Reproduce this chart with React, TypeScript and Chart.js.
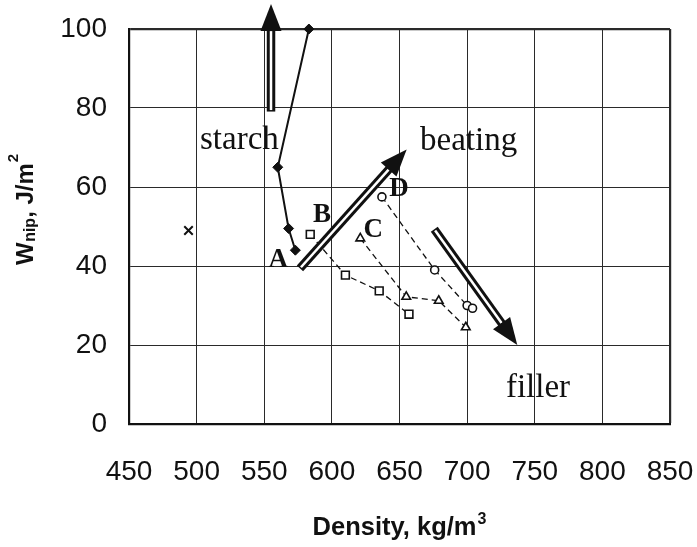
import { useEffect, useRef } from 'react';
import { Chart, registerables } from 'chart.js';

Chart.register(...registerables);

// ---- data ----
const xMin = 450;
const xMax = 850;
const xStep = 50;
const yMin = 0;
const yMax = 100;
const yStep = 20;

// starch series (solid line, filled diamonds)
const diamondX = [573, 568, 560, 583];
const diamondY = [44, 49.5, 65, 100];

// single reference point (x)
const crossX = [494];
const crossY = [49];

// B series (open squares, dashed)
const squareX = [584, 610, 635, 657];
const squareY = [48, 37.7, 33.7, 27.8];

// C series (open triangles, dashed)
const triangleX = [621, 655, 679, 699];
const triangleY = [47, 32.2, 31.2, 24.5];

// D series (open circles, dashed)
const circleX = [637, 676, 700, 704];
const circleY = [57.5, 39, 30, 29.3];

// arrows (data units)
const arrowTailX = [555, 576.4, 675.7];
const arrowTailY = [79.1, 39.4, 49.3];
const arrowTipX = [555, 655.3, 737.1];
const arrowTipY = [106.3, 69.5, 20];

// annotation words
const noteTexts = ['starch', 'beating', 'filler'];
const noteX = [502.5, 665.2, 728.7];
const noteY = [69.5, 69.4, 6.9];

// point letters
const letterTexts = ['A', 'B', 'C', 'D'];
const letterX = [560.4, 592.7, 630.6, 649.6];
const letterY = [39.7, 51.2, 47.4, 57.7];

const toPoints = (xs: number[], ys: number[]) => xs.map((x, i) => ({ x, y: ys[i] }));

function drawArrow(ctx: CanvasRenderingContext2D, x0: number, y0: number, x1: number, y1: number) {
  const dx = x1 - x0;
  const dy = y1 - y0;
  const len = Math.hypot(dx, dy);
  const ux = dx / len;
  const uy = dy / len;
  const headL = 27;
  const headW = 21;
  const bx = x1 - ux * headL;
  const by = y1 - uy * headL;
  ctx.lineCap = 'butt';
  ctx.strokeStyle = '#111';
  ctx.lineWidth = 8.5;
  ctx.beginPath();
  ctx.moveTo(x0, y0);
  ctx.lineTo(bx + ux * 2, by + uy * 2);
  ctx.stroke();
  ctx.strokeStyle = '#fff';
  ctx.lineWidth = 2.5;
  ctx.beginPath();
  ctx.moveTo(x0 + ux * 1.5, y0 + uy * 1.5);
  ctx.lineTo(bx, by);
  ctx.stroke();
  const px = -uy;
  const py = ux;
  ctx.fillStyle = '#111';
  ctx.beginPath();
  ctx.moveTo(x1, y1);
  ctx.lineTo(bx + (px * headW) / 2, by + (py * headW) / 2);
  ctx.lineTo(bx - (px * headW) / 2, by - (py * headW) / 2);
  ctx.closePath();
  ctx.fill();
}

const annotationPlugin = {
  id: 'annotations',
  afterDatasetsDraw(chart: any) {
    const { ctx, scales } = chart;
    const xs = scales.x;
    const ys = scales.y;
    ctx.save();
    for (let i = 0; i < arrowTailX.length; i++) {
      drawArrow(
        ctx,
        xs.getPixelForValue(arrowTailX[i]),
        ys.getPixelForValue(arrowTailY[i]),
        xs.getPixelForValue(arrowTipX[i]),
        ys.getPixelForValue(arrowTipY[i])
      );
    }
    ctx.fillStyle = '#111';
    ctx.textBaseline = 'alphabetic';
    ctx.textAlign = 'left';
    ctx.font = '33px "Liberation Serif", "Times New Roman", serif';
    for (let i = 0; i < noteTexts.length; i++) {
      ctx.fillText(noteTexts[i], xs.getPixelForValue(noteX[i]), ys.getPixelForValue(noteY[i]));
    }
    ctx.textAlign = 'center';
    ctx.font = 'bold 27px "Liberation Serif", "Times New Roman", serif';
    for (let i = 0; i < letterTexts.length; i++) {
      ctx.fillText(letterTexts[i], xs.getPixelForValue(letterX[i]), ys.getPixelForValue(letterY[i]));
    }
    ctx.restore();
  },
  afterDraw(chart: any) {
    const { ctx, chartArea } = chart;
    ctx.save();
    ctx.fillStyle = '#111';
    ctx.textBaseline = 'alphabetic';
    ctx.textAlign = 'left';
    // x title
    const mainFont = 'bold 25.5px "Liberation Sans", Arial, sans-serif';
    const supFont = 'bold 16px "Liberation Sans", Arial, sans-serif';
    ctx.font = mainFont;
    const t1 = 'Density, kg/m';
    const w1 = ctx.measureText(t1).width;
    ctx.font = supFont;
    const w2 = ctx.measureText('3').width;
    const cx = (chartArea.left + chartArea.right) / 2;
    const sx = cx - (w1 + w2 + 1) / 2;
    const by = chartArea.bottom + 111;
    ctx.font = mainFont;
    ctx.fillText(t1, sx, by);
    ctx.font = supFont;
    ctx.fillText('3', sx + w1 + 1, by - 11.5);

    // y title (rotated)
    ctx.translate(33, chartArea.bottom - 159);
    ctx.rotate(-Math.PI / 2);
    let pos = 0;
    const big = 'bold 24px "Liberation Sans", Arial, sans-serif';
    const sub = 'bold 16px "Liberation Sans", Arial, sans-serif';
    const sup2 = 'bold 15px "Liberation Sans", Arial, sans-serif';
    ctx.font = big;
    ctx.fillText('W', pos, 0);
    pos += ctx.measureText('W').width + 0.5;
    ctx.font = sub;
    ctx.fillText('nip', pos, 2);
    pos += ctx.measureText('nip').width;
    ctx.font = big;
    ctx.fillText(', J/m', pos, 0);
    pos += ctx.measureText(', J/m').width + 1;
    ctx.font = sup2;
    ctx.fillText('2', pos, -15);
    ctx.restore();
  },
};

export default function App() {
  const canvasRef = useRef<HTMLCanvasElement | null>(null);

  useEffect(() => {
    const canvas = canvasRef.current;
    if (!canvas) return;
    const dashed = { borderColor: '#111', borderWidth: 1.3, borderDash: [6, 4], showLine: true, clip: false as any };
    const tickFont = { family: '"Liberation Sans", Arial, sans-serif', size: 28 };
    const chart = new Chart(canvas, {
      type: 'scatter',
      data: {
        datasets: [
          {
            label: 'starch',
            data: toPoints(diamondX, diamondY),
            showLine: true,
            borderColor: '#111',
            borderWidth: 2,
            backgroundColor: '#111',
            pointStyle: 'rectRot',
            pointRadius: 5,
            pointBorderWidth: 1,
            pointBackgroundColor: '#111',
            pointBorderColor: '#111',
            clip: false as any,
          },
          {
            label: 'ref',
            data: toPoints(crossX, crossY),
            pointStyle: 'crossRot',
            pointRadius: 6,
            pointBorderWidth: 2,
            pointBorderColor: '#111',
            borderColor: '#111',
          },
          {
            label: 'B',
            data: toPoints(squareX, squareY),
            ...dashed,
            pointStyle: 'rect',
            pointRadius: 5.5,
            pointBorderWidth: 1.6,
            pointBorderColor: '#111',
            pointBackgroundColor: '#fff',
          },
          {
            label: 'C',
            data: toPoints(triangleX, triangleY),
            ...dashed,
            pointStyle: 'triangle',
            pointRadius: 5,
            pointBorderWidth: 1.6,
            pointBorderColor: '#111',
            pointBackgroundColor: '#fff',
          },
          {
            label: 'D',
            data: toPoints(circleX, circleY),
            ...dashed,
            pointStyle: 'circle',
            pointRadius: 4,
            pointBorderWidth: 1.6,
            pointBorderColor: '#111',
            pointBackgroundColor: '#fff',
          },
        ],
      },
      options: {
        responsive: false,
        maintainAspectRatio: false,
        animation: false,
        devicePixelRatio: 1,
        layout: { padding: { left: 0, top: 29, right: 27, bottom: 0 } },
        plugins: { legend: { display: false }, tooltip: { enabled: false }, title: { display: false } },
        scales: {
          x: {
            type: 'linear',
            min: xMin,
            max: xMax,
            ticks: { stepSize: xStep, font: tickFont, color: '#111', padding: 31, maxRotation: 0 },
            grid: {
              color: '#2a2a2a',
              lineWidth: (c: any) => (c.tick && c.tick.value === xMax ? 2.2 : 1),
              drawTicks: false,
            },
            border: { display: true, color: '#111', width: 2.2 },
            afterFit: (s: any) => {
              s.height = 123;
              s.paddingLeft = 0;
              s.paddingRight = 0;
            },
          },
          y: {
            type: 'linear',
            min: yMin,
            max: yMax,
            ticks: { stepSize: yStep, font: tickFont, color: '#111', padding: 22 },
            grid: {
              color: '#2a2a2a',
              lineWidth: (c: any) => (c.tick && c.tick.value === yMax ? 2.2 : 1),
              drawTicks: false,
            },
            border: { display: true, color: '#111', width: 2.2 },
            afterFit: (s: any) => {
              s.width = 129;
              s.paddingTop = 0;
              s.paddingBottom = 0;
            },
          },
        },
      },
      plugins: [annotationPlugin],
    } as any);
    return () => chart.destroy();
  }, []);

  return (
    <div style={{ position: 'absolute', left: 0, top: 0, width: 697, height: 547, background: '#fff' }}>
      <canvas ref={canvasRef} width={697} height={547} style={{ display: 'block' }} />
    </div>
  );
}
